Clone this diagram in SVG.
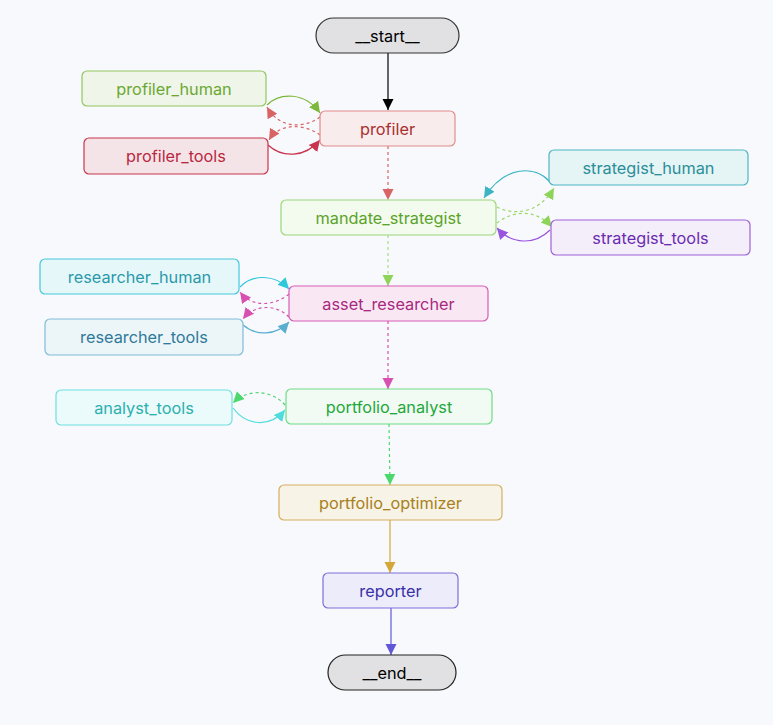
<svg xmlns="http://www.w3.org/2000/svg" width="773" height="725" viewBox="0 0 773 725">
<defs>
<style>
text{font-family:Inter,"Noto Sans","Liberation Sans",sans-serif;font-size:16.3px;text-anchor:middle;dominant-baseline:central}
.n{stroke-width:1.2}
.e{fill:none;stroke-width:1.2}
.d{stroke-dasharray:3 3}
</style>
<marker id="a-black" viewBox="0 0 10 10" refX="10" refY="5" markerUnits="userSpaceOnUse" markerWidth="11" markerHeight="13" orient="auto"><path d="M0,0L10,5L0,10z" fill="#000"/></marker>
<marker id="a-red" viewBox="0 0 10 10" refX="10" refY="5" markerUnits="userSpaceOnUse" markerWidth="11" markerHeight="13" orient="auto"><path d="M0,0L10,5L0,10z" fill="#d86464"/></marker>
<marker id="a-crim" viewBox="0 0 10 10" refX="10" refY="5" markerUnits="userSpaceOnUse" markerWidth="11" markerHeight="13" orient="auto"><path d="M0,0L10,5L0,10z" fill="#c8354e"/></marker>
<marker id="a-lg" viewBox="0 0 10 10" refX="10" refY="5" markerUnits="userSpaceOnUse" markerWidth="11" markerHeight="13" orient="auto"><path d="M0,0L10,5L0,10z" fill="#7cb83a"/></marker>
<marker id="a-g2" viewBox="0 0 10 10" refX="10" refY="5" markerUnits="userSpaceOnUse" markerWidth="11" markerHeight="13" orient="auto"><path d="M0,0L10,5L0,10z" fill="#8fd45a"/></marker>
<marker id="a-teal" viewBox="0 0 10 10" refX="10" refY="5" markerUnits="userSpaceOnUse" markerWidth="11" markerHeight="13" orient="auto"><path d="M0,0L10,5L0,10z" fill="#3cb4c4"/></marker>
<marker id="a-purp" viewBox="0 0 10 10" refX="10" refY="5" markerUnits="userSpaceOnUse" markerWidth="11" markerHeight="13" orient="auto"><path d="M0,0L10,5L0,10z" fill="#9a55e0"/></marker>
<marker id="a-cyan" viewBox="0 0 10 10" refX="10" refY="5" markerUnits="userSpaceOnUse" markerWidth="11" markerHeight="13" orient="auto"><path d="M0,0L10,5L0,10z" fill="#2ec8dc"/></marker>
<marker id="a-mag" viewBox="0 0 10 10" refX="10" refY="5" markerUnits="userSpaceOnUse" markerWidth="11" markerHeight="13" orient="auto"><path d="M0,0L10,5L0,10z" fill="#d850b0"/></marker>
<marker id="a-lb" viewBox="0 0 10 10" refX="10" refY="5" markerUnits="userSpaceOnUse" markerWidth="11" markerHeight="13" orient="auto"><path d="M0,0L10,5L0,10z" fill="#5aaed0"/></marker>
<marker id="a-grn" viewBox="0 0 10 10" refX="10" refY="5" markerUnits="userSpaceOnUse" markerWidth="11" markerHeight="13" orient="auto"><path d="M0,0L10,5L0,10z" fill="#4cd86c"/></marker>
<marker id="a-aq" viewBox="0 0 10 10" refX="10" refY="5" markerUnits="userSpaceOnUse" markerWidth="11" markerHeight="13" orient="auto"><path d="M0,0L10,5L0,10z" fill="#50dcdc"/></marker>
<marker id="a-gold" viewBox="0 0 10 10" refX="10" refY="5" markerUnits="userSpaceOnUse" markerWidth="11" markerHeight="13" orient="auto"><path d="M0,0L10,5L0,10z" fill="#d4a838"/></marker>
<marker id="a-ind" viewBox="0 0 10 10" refX="10" refY="5" markerUnits="userSpaceOnUse" markerWidth="11" markerHeight="13" orient="auto"><path d="M0,0L10,5L0,10z" fill="#6058d8"/></marker>
</defs>
<rect width="773" height="725" fill="#f8f9fc"/>
<g id="connectors">
<path class="e" stroke="#000" d="M388,53L388,110" marker-end="url(#a-black)"/>
<path class="e d" stroke="#d86464" d="M388,146L388,200" marker-end="url(#a-red)"/>
<path class="e" stroke="#7cb83a" d="M267,105C280,92 305,92 320,113" marker-end="url(#a-lg)"/>
<path class="e d" stroke="#d86464" d="M320,117C305,128 280,130 267,107" marker-end="url(#a-red)"/>
<path class="e d" stroke="#d86464" d="M320,135C305,124 280,122 269,140" marker-end="url(#a-red)"/>
<path class="e" stroke="#c8354e" d="M268,145C282,158 305,158 320,140" marker-end="url(#a-crim)"/>
<path class="e" stroke="#3cb4c4" d="M550,182C535,165 505,165 484,198" marker-end="url(#a-teal)"/>
<path class="e d" stroke="#9ad86a" d="M497,207C512,215 538,215 554,188" marker-end="url(#a-g2)"/>
<path class="e d" stroke="#9ad86a" d="M497,223C512,211 535,208 552,227" marker-end="url(#a-g2)"/>
<path class="e" stroke="#9a55e0" d="M550,230C535,245 512,245 497,228" marker-end="url(#a-purp)"/>
<path class="e d" stroke="#a8dc80" d="M388,235L388,286" marker-end="url(#a-g2)"/>
<path class="e" stroke="#2ec8dc" d="M240,287C252,274 275,274 289,289" marker-end="url(#a-cyan)"/>
<path class="e d" stroke="#d850b0" d="M289,294C275,306 252,308 240,292" marker-end="url(#a-mag)"/>
<path class="e d" stroke="#d850b0" d="M289,317C276,304 255,304 243,319" marker-end="url(#a-mag)"/>
<path class="e" stroke="#5aaed0" d="M243,325C256,336 276,336 289,322" marker-end="url(#a-lb)"/>
<path class="e d" stroke="#d850b0" d="M388,321L388,389" marker-end="url(#a-mag)"/>
<path class="e d" stroke="#4cd86c" d="M285,405C272,390 248,388 233,403" marker-end="url(#a-grn)"/>
<path class="e" stroke="#50dcdc" d="M233,408C246,426 270,428 285,410" marker-end="url(#a-aq)"/>
<path class="e d" stroke="#4cd86c" d="M389,424L390,485" marker-end="url(#a-grn)"/>
<path class="e" stroke="#d4a838" d="M390,520L390,573" marker-end="url(#a-gold)"/>
<path class="e" stroke="#6058d8" d="M391,608L391,655" marker-end="url(#a-ind)"/>
</g>
<g id="node-start"><rect class="n" x="316" y="18" width="143" height="35" rx="17.5" fill="#e1e1e3" stroke="#333"/><text x="387.5" y="35.5" fill="#000">__start__</text></g>
<g id="node-profiler_human"><rect class="n" x="82" y="71" width="184" height="35" rx="5" fill="#eff5e8" stroke="#93c660"/><text x="174" y="88.5" fill="#6aa832">profiler_human</text></g>
<g id="node-profiler"><rect class="n" x="320" y="111" width="135" height="35" rx="5" fill="#f9ecec" stroke="#e08c8c"/><text x="387.5" y="128.5" fill="#a83030">profiler</text></g>
<g id="node-profiler_tools"><rect class="n" x="84" y="138" width="184" height="36" rx="5" fill="#f5e4e7" stroke="#c8354e"/><text x="176" y="156" fill="#b8283f">profiler_tools</text></g>
<g id="node-strategist_human"><rect class="n" x="549" y="150" width="199" height="35" rx="5" fill="#e5f4f5" stroke="#4db6c4"/><text x="648.5" y="167.5" fill="#2a8e99">strategist_human</text></g>
<g id="node-mandate_strategist"><rect class="n" x="281" y="200" width="215" height="35" rx="5" fill="#f3fbee" stroke="#9ad67a"/><text x="388.5" y="217.5" fill="#5aa32a">mandate_strategist</text></g>
<g id="node-strategist_tools"><rect class="n" x="551" y="220" width="199" height="35" rx="5" fill="#f3eefa" stroke="#a061d8"/><text x="650.5" y="237.5" fill="#6b2bb0">strategist_tools</text></g>
<g id="node-researcher_human"><rect class="n" x="40" y="259" width="199" height="35" rx="5" fill="#e6f7fa" stroke="#45c7dc"/><text x="139.5" y="276.5" fill="#2a9aaa">researcher_human</text></g>
<g id="node-asset_researcher"><rect class="n" x="289" y="286" width="199" height="35" rx="5" fill="#f9e8f4" stroke="#d85cb8"/><text x="388.5" y="303.5" fill="#a8287f">asset_researcher</text></g>
<g id="node-researcher_tools"><rect class="n" x="45" y="319" width="198" height="36" rx="5" fill="#ecf5f8" stroke="#7fbcd8"/><text x="144" y="337" fill="#2e7a9a">researcher_tools</text></g>
<g id="node-analyst_tools"><rect class="n" x="56" y="390" width="176" height="35" rx="5" fill="#ebfafa" stroke="#6ee0e0"/><text x="144" y="407.5" fill="#2ab0b0">analyst_tools</text></g>
<g id="node-portfolio_analyst"><rect class="n" x="286" y="389" width="206" height="35" rx="5" fill="#f1faf3" stroke="#6edc86"/><text x="389" y="406.5" fill="#22a83a">portfolio_analyst</text></g>
<g id="node-portfolio_optimizer"><rect class="n" x="279" y="485" width="223" height="35" rx="5" fill="#f7f3e6" stroke="#d4b060"/><text x="390.5" y="502.5" fill="#a88020">portfolio_optimizer</text></g>
<g id="node-reporter"><rect class="n" x="323" y="573" width="135" height="35" rx="5" fill="#ececfa" stroke="#7a70d8"/><text x="390.5" y="590.5" fill="#3a30a8">reporter</text></g>
<g id="node-end"><rect class="n" x="328" y="655" width="128" height="35" rx="17.5" fill="#e1e1e3" stroke="#222"/><text x="392" y="672.5" fill="#000">__end__</text></g>
</svg>
